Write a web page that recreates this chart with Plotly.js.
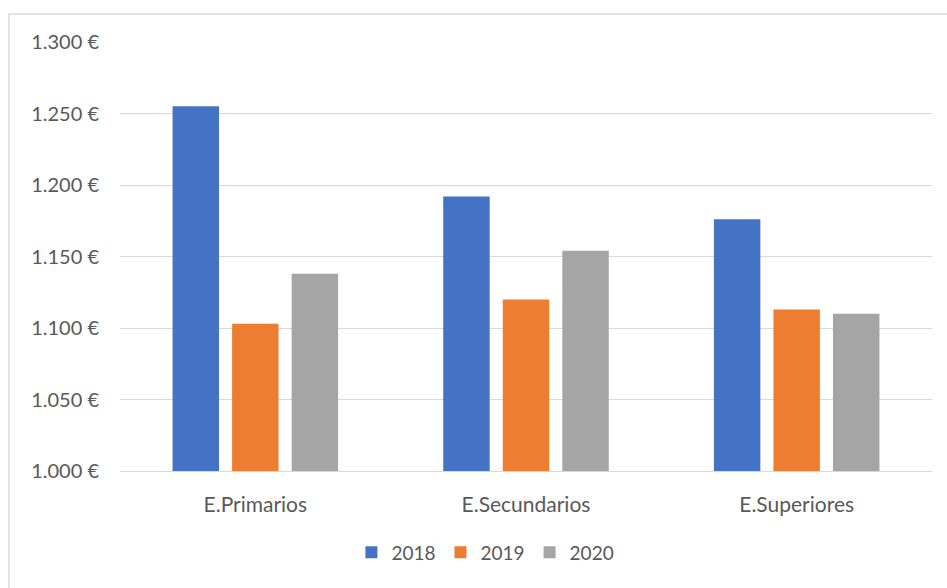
<!DOCTYPE html>
<html>
<head>
<meta charset="utf-8">
<script src="https://cdn.plot.ly/plotly-3.0.1.min.js"></script>
<style>html,body{margin:0;padding:0;background:#fff;}#chart{width:947px;height:588px;}</style>
</head>
<body>
<div id="chart"></div>
<script>
const categories = ["E.Primarios", "E.Secundarios", "E.Superiores"];
const years = ["2018", "2019", "2020"];
const values2018 = [1255, 1192, 1176];
const values2019 = [1103, 1120, 1113];
const values2020 = [1138, 1154, 1110];
const colors = ["#4472C4", "#ED7D31", "#A5A5A5"];

const series = [values2018, values2019, values2020];
const data = series.map((vals, i) => ({
  type: "bar",
  name: years[i],
  x: categories,
  y: vals,
  marker: {color: colors[i], line: {width: 0}},
  hoverinfo: "x+y+name"
}));

const font = "Lato, 'Open Sans', sans-serif";
const layout = {
  width: 947, height: 588,
  margin: {l: 120, r: 15, t: 42, b: 117},
  paper_bgcolor: "#ffffff",
  plot_bgcolor: "#ffffff",
  separators: ",.",
  barmode: "group",
  bargap: 0.34,
  bargroupgap: 0.22,
  font: {family: font, size: 20, color: "#595959"},
  xaxis: {
    type: "category",
    showgrid: false,
    showline: true,
    linecolor: "#d9d9d9",
    linewidth: 1,
    ticks: "",
    tickfont: {family: font, size: 21, color: "#595959"},
    ticklabelstandoff: 15,
    zeroline: false
  },
  yaxis: {
    range: [1000, 1300],
    dtick: 50,
    tick0: 1000,
    tickformat: ",.0f",
    ticksuffix: " €",
    showgrid: true,
    gridcolor: "#d9d9d9",
    gridwidth: 1,
    showline: false,
    zeroline: false,
    ticks: "",
    ticklabelstandoff: 20,
    tickfont: {family: font, size: 20, color: "#595959"}
  },
  legend: {
    orientation: "h",
    x: 0.45, xanchor: "center",
    y: -0.19, yanchor: "middle",
    font: {family: font, size: 19, color: "#595959"},
    itemwidth: 30,
    traceorder: "normal"
  },
  shapes: [{
    type: "rect",
    xref: "paper", yref: "paper",
    x0: -0.1367, x1: 1.05,
    y0: -0.35, y1: 1.0653,
    line: {color: "#d9d9d9", width: 1.5},
    fillcolor: "rgba(0,0,0,0)",
    layer: "below"
  }]
};

Plotly.newPlot("chart", data, layout, {displayModeBar: false, staticPlot: true});
</script>
</body>
</html>
